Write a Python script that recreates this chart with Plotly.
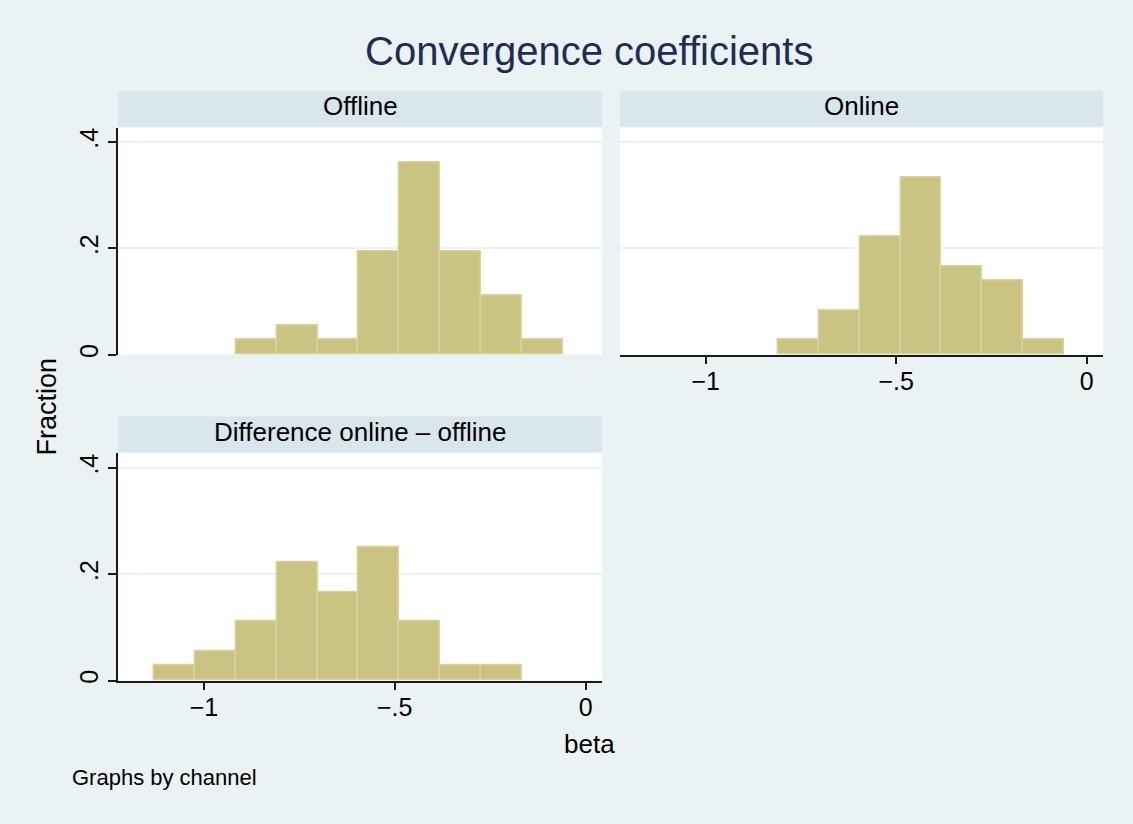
import plotly.graph_objects as go

# ---------------- data ----------------
bin_edges = [-1.130, -1.023, -0.916, -0.809, -0.702, -0.595,
             -0.488, -0.381, -0.274, -0.167, -0.060]
frac_offline = [0.0, 0.0, 0.0278, 0.0556, 0.0278, 0.1944,
                0.3611, 0.1944, 0.1111, 0.0278]
frac_online = [0.0, 0.0, 0.0, 0.0278, 0.0833, 0.2222,
               0.3333, 0.1667, 0.1389, 0.0278]
frac_diff = [0.0278, 0.0556, 0.1111, 0.2222, 0.1667, 0.25,
             0.1111, 0.0278, 0.0278, 0.0]
panel_titles = ["Offline", "Online", "Difference online \u2013 offline"]
x_tickvals = [-1, -0.5, 0]
x_ticktext = ["\u22121", "\u2212.5", "0"]
y_tickvals = [0, 0.2, 0.4]
y_ticktext = ["0", ".2", ".4"]

# ---------------- styling ----------------
W, H = 1133, 824
BG = "#EAF2F3"
STRIP = "#D9E6EB"
BAR = "#CBC382"
BAR_LINE = "#D9D49E"
AX = "#1a1a1a"
FONT = "Liberation Sans, Arial, sans-serif"


def px_x(p):
    return p / W


def px_y(p):
    return 1 - p / H


panels = {
    "off": dict(x0=118, x1=602, y0=128, y1=356),
    "on": dict(x0=620, x1=1103, y0=128, y1=356),
    "diff": dict(x0=118, x1=602, y0=455, y1=683),
}
strips = {
    "off": dict(y0=91, y1=127),
    "on": dict(y0=91, y1=127),
    "diff": dict(y0=418, y1=454),
}

fig = go.Figure()


def add_hist(fracs, xa, ya):
    xs, ws, ys = [], [], []
    for i, f in enumerate(fracs):
        if f <= 0:
            continue
        lo, hi = bin_edges[i], bin_edges[i + 1]
        xs.append((lo + hi) / 2)
        ws.append(hi - lo)
        ys.append(f)
    fig.add_trace(go.Bar(
        x=xs, y=ys, width=ws, xaxis=xa, yaxis=ya,
        marker=dict(color=BAR, line=dict(color=BAR_LINE, width=1.5)),
        showlegend=False, hoverinfo="x+y",
    ))


add_hist(frac_offline, "x", "y")
add_hist(frac_online, "x2", "y2")
add_hist(frac_diff, "x3", "y3")

xrange = [-1.225, 0.043]
yrange = [0, 0.4274]

common_x = dict(range=xrange, showgrid=False, zeroline=False, fixedrange=True,
                tickvals=x_tickvals, ticktext=x_ticktext,
                tickfont=dict(family=FONT, size=25, color="#000"))
common_y = dict(range=yrange, showgrid=True, gridcolor=BG, gridwidth=2,
                zeroline=False, fixedrange=True,
                tickvals=y_tickvals, ticktext=y_ticktext,
                tickfont=dict(family=FONT, size=25, color="#000"))

def dom(p):
    return ([px_x(p["x0"]), px_x(p["x1"])], [px_y(p["y1"]), px_y(p["y0"])])

dx, dy = dom(panels["off"])
fig.update_layout(
    xaxis=dict(common_x, domain=dx, anchor="y", showticklabels=False,
               showline=False, ticks=""),
    yaxis=dict(common_y, domain=dy, anchor="x", showline=True, linecolor=AX,
               linewidth=1.5, ticks="outside", ticklen=8, tickwidth=1.5,
               tickcolor=AX, tickangle=-90),
)
dx, dy = dom(panels["on"])
fig.update_layout(
    xaxis2=dict(common_x, domain=dx, anchor="y2", showline=True, linecolor=AX,
                linewidth=1.5, ticks="outside", ticklen=8, tickwidth=1.5,
                tickcolor=AX, ticklabelstandoff=-4),
    yaxis2=dict(common_y, domain=dy, anchor="x2", showline=False,
                showticklabels=False, ticks=""),
)
dx, dy = dom(panels["diff"])
fig.update_layout(
    xaxis3=dict(common_x, domain=dx, anchor="y3", showline=True, linecolor=AX,
                linewidth=1.5, ticks="outside", ticklen=8, tickwidth=1.5,
                tickcolor=AX, ticklabelstandoff=-4),
    yaxis3=dict(common_y, domain=dy, anchor="x3", showline=True, linecolor=AX,
                linewidth=1.5, ticks="outside", ticklen=8, tickwidth=1.5,
                tickcolor=AX, tickangle=-90),
)

shapes = []
annotations = []
for key, title in zip(["off", "on", "diff"], panel_titles):
    p, s = panels[key], strips[key]
    shapes.append(dict(type="rect", xref="paper", yref="paper",
                       x0=px_x(p["x0"]), x1=px_x(p["x1"]),
                       y0=px_y(s["y1"]), y1=px_y(s["y0"]),
                       fillcolor=STRIP, line=dict(width=0), layer="below"))
    annotations.append(dict(text=title, xref="paper", yref="paper",
                            x=px_x((p["x0"] + p["x1"]) / 2),
                            y=px_y((s["y0"] + s["y1"]) / 2 - 2.5),
                            xanchor="center", yanchor="middle", showarrow=False,
                            font=dict(family=FONT, size=26, color="#000")))

annotations += [
    dict(text="Convergence coefficients", xref="paper", yref="paper",
         x=px_x(589), y=px_y(51), xanchor="center", yanchor="middle",
         showarrow=False, font=dict(family=FONT, size=40, color="#1E2D54")),
    dict(text="Fraction", xref="paper", yref="paper", x=px_x(47), y=px_y(408),
         xanchor="center", yanchor="middle", textangle=-90, showarrow=False,
         font=dict(family=FONT, size=27, color="#000")),
    dict(text="beta", xref="paper", yref="paper", x=px_x(589), y=px_y(747),
         xanchor="center", yanchor="middle", showarrow=False,
         font=dict(family=FONT, size=26, color="#000")),
    dict(text="Graphs by channel", xref="paper", yref="paper", x=px_x(70),
         y=px_y(780), xanchor="left", yanchor="middle", showarrow=False,
         font=dict(family=FONT, size=22, color="#000")),
]

fig.update_layout(
    width=W, height=H, autosize=False,
    margin=dict(l=0, r=0, t=0, b=0, pad=0),
    paper_bgcolor=BG, plot_bgcolor="white",
    bargap=0, showlegend=False,
    shapes=shapes, annotations=annotations,
    font=dict(family=FONT),
)

fig.write_html(
    "out.html",
    config={"displayModeBar": False},
    post_script="document.body.style.margin='0';document.body.style.padding='0';"
                "document.body.style.overflow='hidden';",
)
